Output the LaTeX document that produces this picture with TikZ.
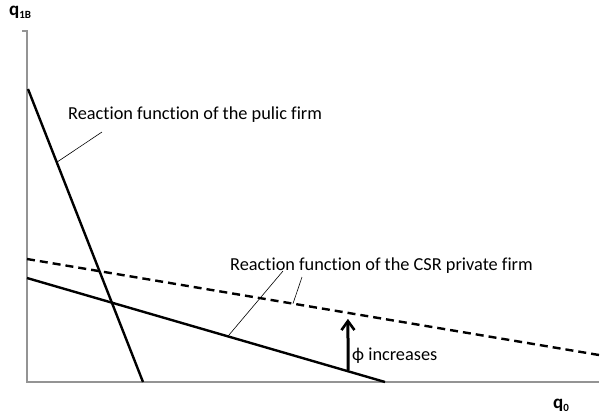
\documentclass[tikz,border=0pt]{standalone}
\usepackage{fontspec}
\setmainfont{Carlito}[Ligatures=NoCommon]
\usetikzlibrary{arrows.meta}
\begin{document}
\begin{tikzpicture}[x=1pt,y=-1pt,
  axis/.style={draw=black!42,line width=2pt},
  curve/.style={draw=black,line width=2.4pt},
  shifted/.style={curve,dash pattern=on 8pt off 5pt},
  leader/.style={draw=black,line width=0.6pt},
  lbl/.style={font=\fontsize{18.3}{22}\selectfont,inner sep=0pt,anchor=west},
  axlbl/.style={font=\fontsize{19}{22}\selectfont\bfseries,inner sep=0pt}]
\useasboundingbox (0,0) rectangle (602,418);

% axes
\draw[axis] (22,31) -- (27,31) -- (27,382) -- (599,382);
\node[axlbl,anchor=west] (ylab) at (9,12) {q\raisebox{-0.35ex}{\fontsize{11}{12}\selectfont 1B}};
\node[axlbl,anchor=west] (xlab) at (553,405) {q\raisebox{-0.35ex}{\fontsize{11}{12}\selectfont 0}};

% reaction function of the public firm
\coordinate (pubA) at (28,89);
\coordinate (pubB) at (143,382);
\draw[curve] (pubA) -- (pubB) coordinate[pos=0.25] (pubhit);

% reaction function of the CSR private firm, before and after the shift
\coordinate (csrA) at (27,278);
\coordinate (csrB) at (385,382);
\draw[curve] (csrA) -- (csrB) coordinate[pos=0.561] (csrhit) coordinate[pos=0.897] (arrbase);
\coordinate (newA) at (27,259);
\coordinate (newB) at (599,355);
\draw[shifted] (newA) -- (newB) coordinate[pos=0.465] (newhit) coordinate[pos=0.561] (arrtop);

% labels and leaders
\node[lbl] (publbl) at (68,115) {Reaction function of the pulic firm};
\coordinate (pubfoot) at (102,132);
\draw[leader] (pubfoot) -- (pubhit);

\node[lbl] (csrlbl) at (230,266) {Reaction function of the CSR private firm};
\coordinate (csrfoot1) at (283,271);
\coordinate (csrfoot2) at (302,277);
\draw[leader] (csrfoot1) -- (csrhit);
\draw[leader] (csrfoot2) -- (newhit);

% shift arrow
\draw[line width=3pt,-{Straight Barb[length=9pt,width=13pt,line width=2.6pt]},shorten <=1pt,shorten >=6pt] (arrbase) -- (arrtop);
\node[lbl] (philbl) at (352,356) {ϕ increases};
\end{tikzpicture}
\end{document}
